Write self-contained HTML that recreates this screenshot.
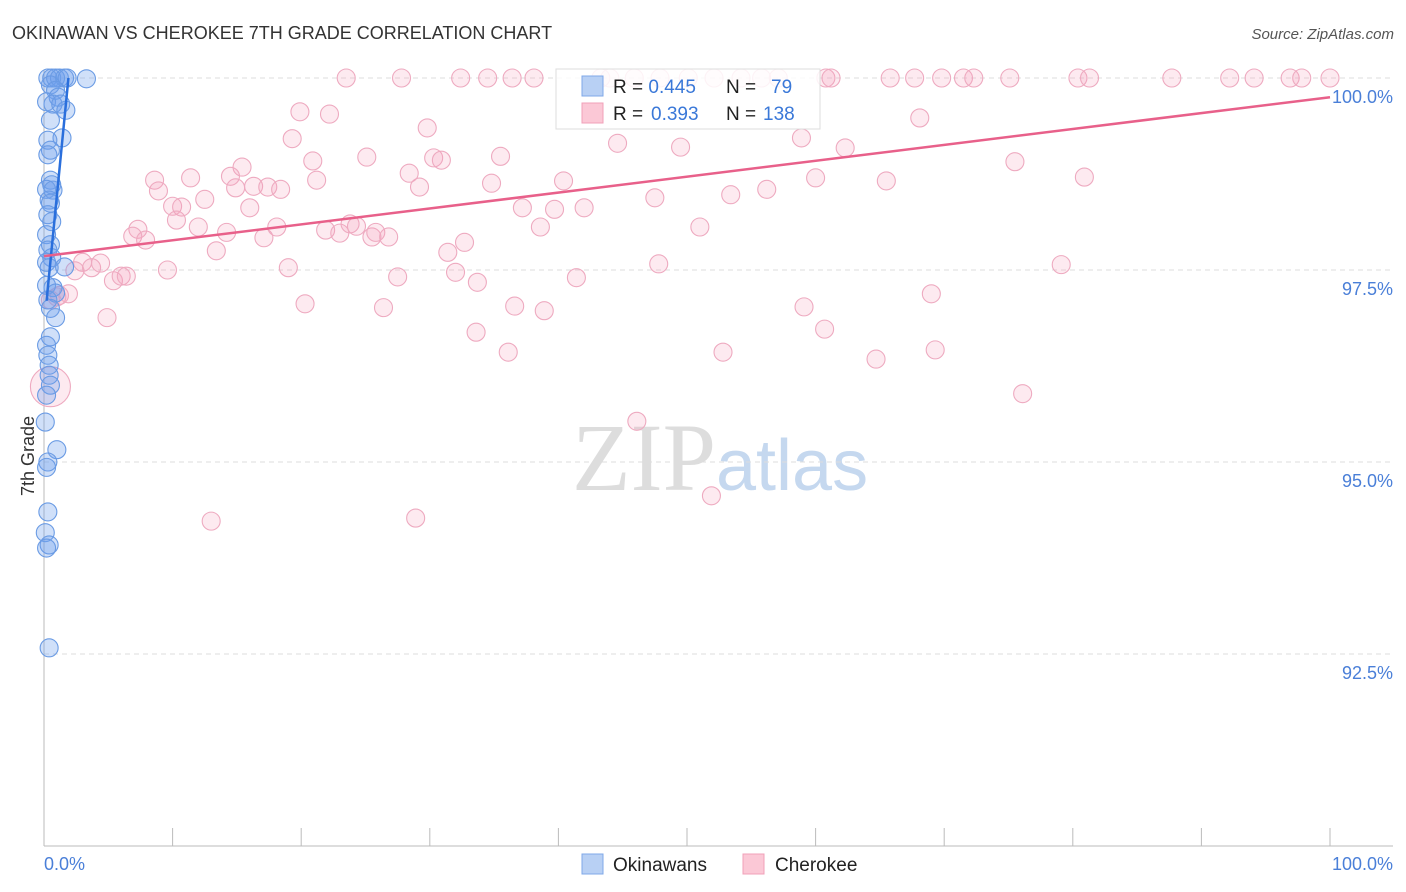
<!DOCTYPE html>
<html><head><meta charset="utf-8"><style>
body{margin:0;background:#fff;font-family:"Liberation Sans",sans-serif;}
svg{display:block}
</style></head><body>
<svg id="chart" width="1406" height="892">
<text x="12" y="39" font-size="18" fill="#333">OKINAWAN VS CHEROKEE 7TH GRADE CORRELATION CHART</text>
<text x="1394" y="39" font-size="15" fill="#555" font-style="italic" text-anchor="end">Source: ZipAtlas.com</text>
<text x="716" y="490" font-size="96" fill="#ddd" text-anchor="end" font-family="Liberation Serif,serif">ZIP</text>
<text x="716" y="490" font-size="72" fill="#c5d8ef">atlas</text>
<text transform="translate(34,456) rotate(-90)" font-size="18" fill="#333" text-anchor="middle">7th Grade</text>
<g id="grid"></g><g id="pts"></g><g id="lines"></g>
<g>
<rect x="556" y="69" width="264" height="60" fill="#fff" fill-opacity="0.85" stroke="#ddd"/>
<rect x="582" y="76" width="21" height="20" fill="#b8d0f4" stroke="#7fa8e8"/>
<rect x="582" y="103" width="21" height="20" fill="#fbc8d6" stroke="#f0a0b8"/>
<text x="613" y="93" font-size="19" fill="#222">R = <tspan fill="#3a78d8">0.445</tspan><tspan x="726">N = </tspan><tspan x="771" fill="#3a78d8">79</tspan></text>
<text x="613" y="120" font-size="19" fill="#222">R = <tspan x="651" fill="#3a78d8">0.393</tspan><tspan x="726">N = </tspan><tspan x="763" fill="#3a78d8">138</tspan></text>
</g>
<g>
<rect x="582" y="854" width="21" height="20" fill="#b8d0f4" stroke="#7fa8e8"/>
<text x="613" y="871" font-size="19" fill="#222">Okinawans</text>
<rect x="743" y="854" width="21" height="20" fill="#fbc8d6" stroke="#f0a0b8"/>
<text x="775" y="871" font-size="19" fill="#222">Cherokee</text>
</g>
</svg>
<script>
const yTicks=[100,97.5,95,92.5];
const yTickLabels=["100.0%","97.5%","95.0%","92.5%"];
const xTickLabels=["0.0%","100.0%"];
const blueX=[.3,.6,.9,1.2,1.6,1.8,3.3,.5,.9,1.1,.2,.7,1.3,1.7,.5,1.4,.3,.5,.3,.5,.6,.2,.7,.4,.5,.3,.6,.2,.5,.3,.6,.2,.4,1.6,.2,.7,.9,.3,.5,.9,.5,.2,.3,.4,.4,.5,.2,.1,1.0,.3,.2,.3,.1,.4,.2,.4];
const blueY=[100,100,100,100,100,100,99.99,99.91,99.84,99.75,99.69,99.66,99.66,99.58,99.45,99.22,99.19,99.06,99.0,98.67,98.61,98.55,98.54,98.41,98.37,98.22,98.13,97.96,97.83,97.76,97.66,97.6,97.53,97.54,97.3,97.27,97.2,97.11,97.0,96.88,96.63,96.52,96.39,96.26,96.13,96.0,95.87,95.52,95.16,95.0,94.93,94.35,94.08,93.92,93.88,92.58];
const pinkTopX=[23.5,27.8,32.4,34.5,36.4,38.1,43.3,44.0,45.9,47.9,50.1,52.1,54.2,55.8,57.1,60.8,61.2,65.8,67.7,69.8,71.5,72.3,75.1,80.4,81.3,87.7,92.2,94.1,96.9,97.8,100];
const pinkX=[19.9,22.2,19.3,29.8,44.6,49.5,35.5,25.1,20.9,30.3,30.9,68.1,58.9,62.3,75.5,15.4,8.6,11.4,14.5,8.9,14.9,16.3,17.4,18.4,21.2,28.4,29.2,34.8,40.4,47.5,53.4,56.2,60.0,65.5,80.9,10.0,10.7,12.5,16.0,37.2,39.7,42.0,51.0,38.6,7.3,6.9,7.9,10.3,12.0,14.2,17.1,18.1,21.9,23.0,23.8,24.3,25.5,25.8,26.8,31.4,32.7,13.4,3.0,3.7,4.4,2.4,5.4,6.0,6.4,9.6,19.0,27.5,32.0,33.7,41.4,47.8,79.1,1.2,1.0,1.9,0.5,4.9,20.3,26.4,36.6,38.9,59.1,69.0,33.6,60.7,36.1,52.8,64.7,69.3,76.1,46.1,51.9,13.0,28.9];
const pinkY=[99.56,99.53,99.21,99.35,99.15,99.10,98.98,98.97,98.92,98.96,98.93,99.48,99.22,99.09,98.91,98.84,98.67,98.70,98.72,98.53,98.57,98.59,98.58,98.55,98.67,98.76,98.58,98.63,98.66,98.44,98.48,98.55,98.70,98.66,98.71,98.33,98.32,98.42,98.31,98.31,98.29,98.31,98.06,98.06,98.03,97.94,97.89,98.15,98.06,97.99,97.92,98.06,98.02,97.98,98.10,98.07,97.93,97.99,97.93,97.73,97.86,97.75,97.60,97.53,97.59,97.49,97.36,97.42,97.42,97.50,97.53,97.41,97.47,97.34,97.40,97.58,97.57,97.17,97.15,97.19,97.11,96.88,97.06,97.01,97.03,96.97,97.02,97.19,96.69,96.73,96.43,96.43,96.34,96.46,95.89,95.53,94.56,94.23,94.27];
const bigPinkX=[0.5], bigPinkY=[95.98];
const blueTrendX=[0.2,1.9], blueTrendY=[97.1,100];
const pinkTrendX=[0,100], pinkTrendY=[97.68,99.75];
const X=v=>44+v*12.86, Y=v=>78+(100-v)*76.8;
const NS="http://www.w3.org/2000/svg";
function mk(tag,at,par){const e=document.createElementNS(NS,tag);for(const k in at)e.setAttribute(k,at[k]);document.getElementById(par).appendChild(e);return e;}
yTicks.forEach((t,i)=>{
 const l=mk('line',{x1:44,x2:1393,y1:Y(t),y2:Y(t),stroke:'#ddd','stroke-dasharray':'5,4'},'grid');
 
 
 const tx=mk('text',{x:1393,y:Y(t)+25,'font-size':18,fill:'#4a7fd8','text-anchor':'end'},'grid');
 tx.textContent=yTickLabels[i];
 
 
});
const ax=mk('line',{x1:44,x2:44,y1:70,y2:846,stroke:'#bbb'},'grid');


const bx=mk('line',{x1:44,x2:1393,y1:846,y2:846,stroke:'#bbb'},'grid');


for(let i=0;i<=10;i++){
 const t=mk('line',{x1:X(i*10),x2:X(i*10),y1:828,y2:846,stroke:'#bbb'},'grid');
 
 
}
[[0,'start'],[100,'end']].forEach((p,i)=>{
 const t=mk('text',{x:p[0]?1393:44,y:870,'font-size':18,fill:'#4a7fd8','text-anchor':p[1]},'grid');
 t.textContent=xTickLabels[i];
 
 
});
function dot(x,y,r,pink){
 const c=mk('circle',{cx:X(x),cy:Y(y),r:r,fill:pink?'rgba(244,160,188,0.22)':'rgba(110,160,235,0.32)',stroke:pink?'#eeaac0':'#6a9be4','stroke-width':1.1},'pts');
 
 
}
pinkTopX.forEach(x=>dot(x,100,9,true));
pinkX.forEach((x,i)=>dot(x,pinkY[i],9,true));
bigPinkX.forEach((x,i)=>dot(x,bigPinkY[i],20,true));
blueX.forEach((x,i)=>dot(x,blueY[i],9,false));
const bl=mk('line',{x1:X(blueTrendX[0]),y1:Y(blueTrendY[0]),x2:X(blueTrendX[1]),y2:Y(blueTrendY[1]),stroke:'#2a6fdc','stroke-width':2.5},'lines');


const pl=mk('line',{x1:X(pinkTrendX[0]),y1:Y(pinkTrendY[0]),x2:X(pinkTrendX[1]),y2:Y(pinkTrendY[1]),stroke:'#e8608a','stroke-width':2.5},'lines');


</script>
</body></html>
